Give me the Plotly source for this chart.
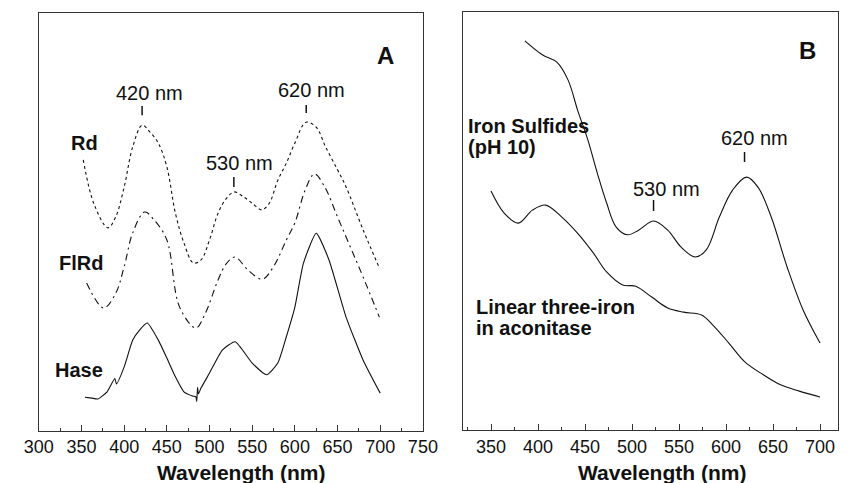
import plotly.graph_objects as go

# ---------------- Panel A data (wavelength nm, relative absorbance) ----------------
rd_nm = [352, 365, 381, 390, 400, 410, 421, 430, 440, 450, 460, 470, 481, 490, 500, 510,
         520, 529, 540, 550, 561, 570, 580, 590, 600, 613, 625, 636, 650, 660, 680, 699]
rd_abs = [0.649, 0.541, 0.486, 0.512, 0.584, 0.680, 0.732, 0.716, 0.689, 0.632, 0.521, 0.450,
          0.402, 0.409, 0.457, 0.521, 0.557, 0.572, 0.560, 0.545, 0.529, 0.545, 0.600, 0.641,
          0.689, 0.739, 0.727, 0.680, 0.625, 0.584, 0.481, 0.390]

flrd_nm = [356, 376, 390, 400, 410, 424, 435, 450, 465, 484, 495, 510, 520, 530, 545, 562,
           575, 590, 600, 612, 623, 635, 650, 665, 680, 699]
flrd_abs = [0.354, 0.294, 0.329, 0.393, 0.474, 0.524, 0.505, 0.457, 0.296, 0.246, 0.281, 0.361,
            0.401, 0.416, 0.385, 0.363, 0.393, 0.457, 0.498, 0.576, 0.615, 0.584, 0.512, 0.440,
            0.368, 0.272]

hase_nm = [354, 362, 369, 380, 389, 391, 400, 410, 418, 427, 440, 450, 460, 470, 480, 484,
           485, 486, 487, 490, 500, 515, 530, 550, 567, 580, 590, 600, 610, 625, 640, 660,
           680, 700]
hase_abs = [0.080, 0.078, 0.076, 0.093, 0.125, 0.112, 0.153, 0.217, 0.241, 0.258, 0.217, 0.174,
            0.129, 0.093, 0.083, 0.081, 0.070, 0.104, 0.088, 0.102, 0.138, 0.193, 0.213, 0.162,
            0.134, 0.162, 0.225, 0.296, 0.401, 0.473, 0.409, 0.272, 0.169, 0.090]

# ---------------- Panel B data ----------------
fes_nm = [386, 405, 420, 432, 442, 453, 463, 473, 483, 495, 507, 523, 538, 552, 567, 579,
          593, 607, 622, 634, 648, 665, 682, 700]
fes_abs = [0.931, 0.897, 0.880, 0.837, 0.766, 0.694, 0.615, 0.543, 0.486, 0.467, 0.478, 0.500,
           0.478, 0.438, 0.414, 0.431, 0.510, 0.574, 0.605, 0.581, 0.510, 0.390, 0.287, 0.208]

lin_nm = [350, 364, 379, 394, 408, 425, 442, 459, 473, 490, 504, 521, 538, 555, 574, 586,
          603, 620, 637, 658, 678, 700]
lin_abs = [0.572, 0.519, 0.495, 0.526, 0.538, 0.510, 0.471, 0.423, 0.378, 0.347, 0.344, 0.318,
           0.292, 0.282, 0.275, 0.251, 0.208, 0.163, 0.136, 0.108, 0.093, 0.079]

ticks_a = [300, 350, 400, 450, 500, 550, 600, 650, 700, 750]
ticks_b = [350, 400, 450, 500, 550, 600, 650, 700]

FONT = "Liberation Sans, Arial, sans-serif"
LINE = "#111111"

fig = go.Figure()
fig.add_trace(go.Scatter(x=rd_nm, y=rd_abs, mode="lines", line=dict(color=LINE, width=1.1, dash="dot", shape="spline"), xaxis="x", yaxis="y"))
fig.add_trace(go.Scatter(x=flrd_nm, y=flrd_abs, mode="lines", line=dict(color=LINE, width=1.1, dash="7px,4px,2px,4px", shape="spline"), xaxis="x", yaxis="y"))
fig.add_trace(go.Scatter(x=hase_nm, y=hase_abs, mode="lines", line=dict(color=LINE, width=1.1, shape="spline", smoothing=0.5), xaxis="x", yaxis="y"))
fig.add_trace(go.Scatter(x=fes_nm, y=fes_abs, mode="lines", line=dict(color=LINE, width=1.1, shape="spline"), xaxis="x2", yaxis="y2"))
fig.add_trace(go.Scatter(x=lin_nm, y=lin_abs, mode="lines", line=dict(color=LINE, width=1.1, shape="spline"), xaxis="x2", yaxis="y2"))

axis_common = dict(showline=True, linecolor="#333333", linewidth=1, mirror=True,
                   showgrid=False, zeroline=False)

fig.update_layout(
    width=855, height=483,
    margin=dict(l=0, r=0, t=0, b=0),
    paper_bgcolor="white", plot_bgcolor="white",
    showlegend=False,
    font=dict(family=FONT, color="#111111"),
    xaxis=dict(domain=[0.0289, 0.4944], range=[300, 750], tickvals=ticks_a,
               ticks="inside", ticklen=6, tickcolor="#333333",
               minor=dict(dtick=25, tick0=300, ticks="inside", ticklen=3, tickcolor="#333333"),
               tickfont=dict(size=18, family=FONT, color="#111111"), anchor="y", **axis_common),
    yaxis=dict(domain=[0.1083, 0.9725], range=[0, 1], showticklabels=False, ticks="",
               anchor="x", **axis_common),
    xaxis2=dict(domain=[0.5435, 0.998], range=[320.6, 719.5], tickvals=ticks_b,
                ticks="inside", ticklen=6, tickcolor="#333333",
                minor=dict(dtick=25, tick0=325, ticks="inside", ticklen=3, tickcolor="#333333"),
                tickfont=dict(size=18, family=FONT, color="#111111"), anchor="y2", **axis_common),
    yaxis2=dict(domain=[0.1097, 0.9752], range=[0, 1], showticklabels=False, ticks="",
                anchor="x2", **axis_common),
)

def note(text, x, y, size=20, bold=False, xref="x", yref="y", xanchor="center", yanchor="middle"):
    t = f"<b>{text}</b>" if bold else text
    fig.add_annotation(text=t, x=x, y=y, xref=xref, yref=yref, showarrow=False,
                       xanchor=xanchor, yanchor=yanchor,
                       font=dict(size=size, family=FONT, color="#111111"))

# Panel A labels
note("420 nm", 429.9, 0.809)
note("620 nm", 619.9, 0.816)
note("530 nm", 535.6, 0.641)
note("A", 706.4, 0.900, size=24, bold=True)
note("Rd", 353.5, 0.689, bold=True)
note("FlRd", 349, 0.402, bold=True)
note("Hase", 346.7, 0.145, bold=True)

# Panel B labels
note("B", 686.4, 0.909, size=24, bold=True, xref="x2", yref="y2")
note("620 nm", 630.7, 0.699, xref="x2", yref="y2")
note("530 nm", 536.6, 0.577, xref="x2", yref="y2")
note("Iron Sulfides", 323, 0.727, bold=True, xref="x2", yref="y2", xanchor="left")
note("(pH 10)", 323, 0.677, bold=True, xref="x2", yref="y2", xanchor="left")
note("Linear three-iron", 332.2, 0.294, bold=True, xref="x2", yref="y2", xanchor="left")
note("in aconitase", 332.2, 0.244, bold=True, xref="x2", yref="y2", xanchor="left")

# Axis titles
note("Wavelength (nm)", 234 / 855, -0.007, size=21, bold=True, xref="paper", yref="paper", yanchor="bottom")
note("Wavelength (nm)", 671 / 855, -0.007, size=21, bold=True, xref="paper", yref="paper", yanchor="bottom")

# Peak marker ticks
for x0, y0, y1, xr, yr in [(421, 0.756, 0.778, "x", "y"), (613.3, 0.761, 0.780, "x", "y"),
                           (528.5, 0.584, 0.608, "x", "y"), (619.7, 0.641, 0.665, "x2", "y2"),
                           (522.9, 0.524, 0.550, "x2", "y2")]:
    fig.add_shape(type="line", x0=x0, x1=x0, y0=y0, y1=y1, xref=xr, yref=yr,
                  line=dict(color="#111111", width=1.5))

fig.write_html("out.html")
